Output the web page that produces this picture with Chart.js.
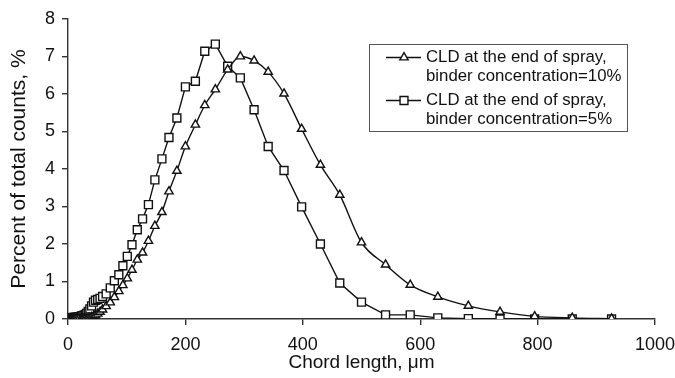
<!DOCTYPE html>
<html>
<head>
<meta charset="utf-8">
<script src="https://cdn.jsdelivr.net/npm/chart.js@4/dist/chart.umd.min.js"></script>
<style>
  html, body { margin: 0; padding: 0; background: #fff; }
  #wrap { width: 675px; height: 378px; position: relative; }
</style>
</head>
<body>
<div id="wrap"><canvas id="c" width="675" height="378"></canvas></div>
<script>
// Chord length channels (µm)
const chordLength = [1, 1.5, 2, 2.5, 3, 3.5, 4, 4.7, 5.4, 6.3, 7.4, 8.6, 10, 11.7, 13.7, 16, 18.6, 21.7, 23.4, 25.3, 27.3, 29.5, 31.9, 34.4, 37.2, 40.2, 43.4, 46.8, 50.6, 54.6, 58.9, 65, 72, 79, 86.6, 93.5, 101, 109, 118, 127, 137, 148, 160, 172, 185.5, 200, 217, 233, 251, 272, 293.6, 317, 341, 368, 398, 430, 463, 500, 541, 583, 630, 682, 736, 795, 859, 926];
// Percent of total counts, binder concentration = 10%
const binder10 = [0, 0, 0, 0, 0, 0, 0, 0, 0, 0, 0, 0, 0, 0, 0, 0, 0, 0, 0, 0, 0.01, 0.01, 0.01, 0.02, 0.03, 0.05, 0.07, 0.10, 0.14, 0.19, 0.25, 0.34, 0.44, 0.58, 0.74, 0.90, 1.08, 1.31, 1.58, 1.77, 2.08, 2.48, 2.85, 3.40, 3.95, 4.60, 5.18, 5.70, 6.12, 6.65, 7.00, 6.89, 6.59, 6.01, 5.07, 4.11, 3.31, 2.04, 1.45, 0.91, 0.59, 0.35, 0.19, 0.07, 0.03, 0.01];
// Percent of total counts, binder concentration = 5%
const binder5 = [0, 0, 0, 0.01, 0.01, 0.01, 0.02, 0.02, 0.02, 0.03, 0.03, 0.03, 0.04, 0.04, 0.05, 0.05, 0.06, 0.07, 0.08, 0.09, 0.10, 0.12, 0.15, 0.20, 0.27, 0.35, 0.45, 0.50, 0.52, 0.55, 0.60, 0.67, 0.83, 1.02, 1.18, 1.42, 1.67, 1.98, 2.38, 2.67, 3.05, 3.71, 4.27, 4.84, 5.36, 6.19, 6.34, 7.14, 7.33, 6.74, 6.43, 5.58, 4.60, 3.96, 2.99, 2.00, 0.96, 0.45, 0.11, 0.11, 0.03, 0.01, 0, 0, 0, 0];
const seriesLabels = [
  ["CLD at the end of spray,", "binder concentration=10%"],
  ["CLD at the end of spray,", "binder concentration=5%"]
];
const xTicks = [0, 200, 400, 600, 800, 1000];
const yTicks = [0, 1, 2, 3, 4, 5, 6, 7, 8];
const xTitle = "Chord length, \u03bcm";
const yTitle = "Percent of total counts, %";

const FONT = "'Liberation Sans', Arial, sans-serif";
const toPts = (ys) => chordLength.map((x, i) => ({ x: x, y: ys[i] }));

const legendPlugin = {
  id: 'boxLegend',
  afterDraw(chart) {
    const ctx = chart.ctx;
    const ds = chart.data.datasets;
    ctx.save();
    const bx = 369.5, by = 44.5, bw = 258, bh = 87;
    ctx.strokeStyle = '#555';
    ctx.lineWidth = 1;
    ctx.strokeRect(bx, by, bw, bh);
    const rows = [57.5, 100.5];
    ctx.textBaseline = 'middle';
    rows.forEach((ry, i) => {
      const d = ds[i];
      ctx.strokeStyle = '#111';
      ctx.lineWidth = 1.4;
      ctx.beginPath();
      ctx.moveTo(386, ry);
      ctx.lineTo(421, ry);
      ctx.stroke();
      ctx.fillStyle = '#fff';
      ctx.strokeStyle = '#111';
      ctx.lineWidth = d.pointBorderWidth;
      Chart.helpers.drawPoint(ctx, {
        pointStyle: d.pointStyle, radius: d.pointRadius, rotation: 0,
        borderWidth: d.pointBorderWidth
      }, 404, ry);
      ctx.fillStyle = '#111';
      ctx.font = '16.8px ' + FONT;
      seriesLabels[i].forEach((t, k) => {
        ctx.fillText(t, 426, ry + k * 18.7);
      });
    });
    ctx.restore();
  }
};

new Chart(document.getElementById('c'), {
  type: 'line',
  data: {
    datasets: [
      {
        label: seriesLabels[0].join(' '),
        data: toPts(binder10),
        borderColor: '#111', borderWidth: 1.4,
        pointStyle: 'triangle', pointRadius: 4.8, pointBorderWidth: 1.4,
        pointBackgroundColor: '#fff', pointBorderColor: '#111',
        cubicInterpolationMode: 'monotone', fill: false
      },
      {
        label: seriesLabels[1].join(' '),
        data: toPts(binder5),
        borderColor: '#111', borderWidth: 1.4,
        pointStyle: 'rect', pointRadius: 5.6, pointBorderWidth: 1.4,
        pointBackgroundColor: '#fff', pointBorderColor: '#111',
        tension: 0, fill: false
      }
    ]
  },
  options: {
    responsive: false,
    animation: false,
    devicePixelRatio: 1,
    layout: { padding: { left: 0, right: 20, top: 19, bottom: 0 } },
    plugins: { legend: { display: false }, tooltip: { enabled: false } },
    scales: {
      x: {
        type: 'linear', min: 0, max: 1000,
        afterBuildTicks(s) { s.ticks = xTicks.map(v => ({ value: v })); },
        afterFit(s) { s.height = 59; s.paddingRight = 0; s.paddingLeft = 0; },
        border: { display: true, color: '#333', width: 1.4 },
        grid: { display: true, drawOnChartArea: false, drawTicks: true, tickLength: 6, color: '#333', lineWidth: 1.4 },
        ticks: { color: '#111', font: { family: FONT, size: 18 }, padding: 9, maxRotation: 0, callback: (v) => String(v) },
        title: { display: true, text: xTitle, color: '#111', font: { family: FONT, size: 19 }, padding: { top: 0, bottom: 4 } }
      },
      y: {
        type: 'linear', min: 0, max: 8,
        afterBuildTicks(s) { s.ticks = yTicks.map(v => ({ value: v })); },
        afterFit(s) { s.width = 68; },
        border: { display: true, color: '#333', width: 1.4 },
        grid: { display: true, drawOnChartArea: false, drawTicks: true, tickLength: 6, color: '#333', lineWidth: 1.4 },
        ticks: { color: '#111', font: { family: FONT, size: 18 }, padding: 7, callback: (v) => String(v) },
        title: { display: true, text: yTitle, color: '#111', font: { family: FONT, size: 21 }, padding: { top: 7, bottom: 0 } }
      }
    }
  },
  plugins: [legendPlugin]
});
</script>
</body>
</html>
